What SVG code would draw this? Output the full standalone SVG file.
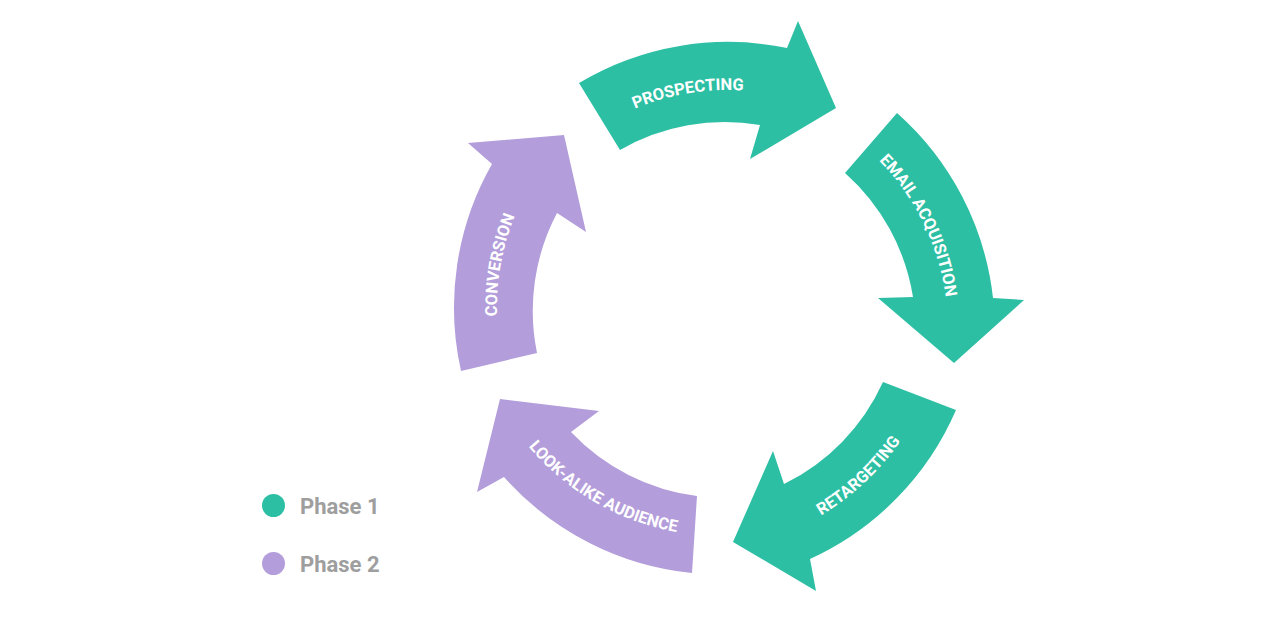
<svg xmlns="http://www.w3.org/2000/svg" width="1288" height="617" viewBox="0 0 1288 617">
<style>
.p1{fill:#2DBFA4}
.p2{fill:#B39DDA}
.lbl{font-family:Roboto,"Liberation Sans",sans-serif;font-weight:bold;font-size:16.5px;fill:#ffffff}
.leg{font-family:Roboto,"Liberation Sans",sans-serif;font-weight:bold;font-size:22px;fill:#9E9E9E}
</style>
<defs>
<path id="tp-prospecting" d="M574.1,145.3 A242,242 0 0 1 812.7,105.3"/>
<path id="tp-email" d="M840.9,128.6 A243,243 0 0 1 947.4,347.0"/>
<path id="tp-retargeting" d="M747.9,544.9 A256,256 0 0 0 934.8,369.9"/>
<path id="tp-lookalike" d="M502.8,410.0 A252,252 0 0 0 721,536"/>
<path id="tp-conversion" d="M511.9,392.5 A247,247 0 0 1 554.8,149.2"/>
</defs>
<rect width="1288" height="617" fill="#ffffff"/>
<g id="connectors"></g>
<g id="prospecting">
<path class="p1" d="M579,83 A290,290 0 0 1 787,48 L798,21 L836,108 L750,159 L760,125 A210,210 0 0 0 620,150 Z"/>
<text class="lbl"><textPath href="#tp-prospecting" startOffset="50%" text-anchor="middle">PROSPECTING</textPath></text>
</g>
<g id="email-acquisition">
<path class="p1" d="M897,113 A290,290 0 0 1 993,298 L1024,300 L954,363 L878,298 L913,297 A210,210 0 0 0 845,173 Z"/>
<text class="lbl"><textPath href="#tp-email" startOffset="50%" text-anchor="middle">EMAIL ACQUISITION</textPath></text>
</g>
<g id="retargeting">
<path class="p1" d="M956,410 A290,290 0 0 1 810,559 L816,591 L733,542 L773,451 L784,484 A210,210 0 0 0 883,382 Z"/>
<text class="lbl"><textPath href="#tp-retargeting" startOffset="50%" text-anchor="middle">RETARGETING</textPath></text>
</g>
<g id="look-alike-audience">
<path class="p2" d="M692,573 A290,290 0 0 1 504,477 L477,492 L500,399 L599,411 L571,432 A210,210 0 0 0 697,496 Z"/>
<text class="lbl"><textPath href="#tp-lookalike" startOffset="50%" text-anchor="middle">LOOK-ALIKE AUDIENCE</textPath></text>
</g>
<g id="conversion">
<path class="p2" d="M461,371 A290,290 0 0 1 492,164 L468,143 L564,135 L586,232 L557,213 A210,210 0 0 0 537,353 Z"/>
<text class="lbl"><textPath href="#tp-conversion" startOffset="50%" text-anchor="middle">CONVERSION</textPath></text>
</g>
<g id="legend-phase1">
<circle class="p1" cx="273.5" cy="505.5" r="11.5"/>
<text class="leg" x="300" y="514">Phase 1</text>
</g>
<g id="legend-phase2">
<circle class="p2" cx="273.5" cy="563.5" r="11.5"/>
<text class="leg" x="300" y="572">Phase 2</text>
</g>
</svg>
